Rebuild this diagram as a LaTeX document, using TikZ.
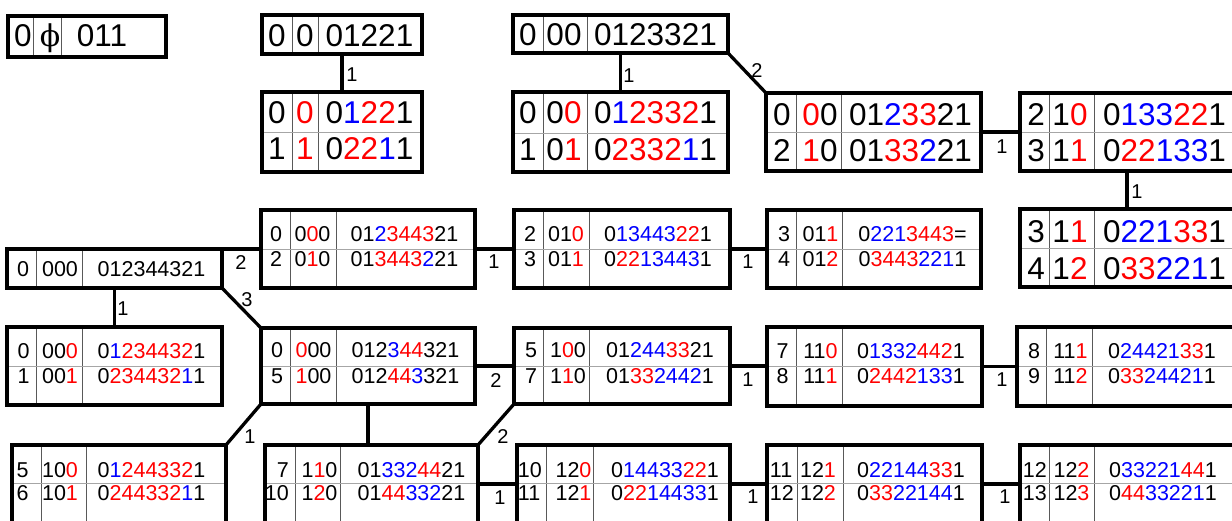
\documentclass[tikz,border=0pt]{standalone}
\usepackage{fontspec}
\setmainfont{Liberation Sans}
\newfontfamily\phifont{DejaVu Serif}
\usetikzlibrary{calc}
\newcommand{\rd}[1]{\textcolor{red}{#1}}
\newcommand{\bl}[1]{\textcolor{blue}{#1}}
\tikzset{
 frame/.style={draw=black, line width=3.3pt, inner sep=0pt, outer sep=0pt, rectangle},
 cdiv/.style={draw=black!65, line width=0.9pt},
 rdiv/.style={draw=black!35, line width=0.9pt},
 conn/.style={draw=black, line width=3.3pt},
 bg/.style={font=\fontsize{31.5}{31.5}\selectfont, anchor=base, inner sep=0pt},
 sm/.style={font=\fontsize{21.5}{21.5}\selectfont, anchor=base, inner sep=0pt},
 lab/.style={font=\fontsize{20}{20}\selectfont, inner sep=0pt},
}
\newcommand{\frm}[5]{\node[frame, minimum width={(#4-#2)*1pt}, minimum height={(#5-#3)*1pt}] (#1) at ({(#2+#4)/2},{(#3+#5)/2}) {};}
\newcommand{\grd}[6]{\draw[cdiv] (#5,#2) -- (#5,#4); \draw[cdiv] (#6,#2) -- (#6,#4);}
\newcommand{\rw}[3]{\draw[rdiv] (#1,#3) -- (#2,#3);}
\begin{document}
\begin{tikzpicture}[x=1pt,y=-1pt]
\useasboundingbox (0,0) rectangle (1232,521);
\clip (0,0) rectangle (1232,521);
% grid lines
\grd{8}{16}{166}{57}{33}{61}
\grd{262}{15}{422}{54}{292}{318}
\grd{262}{92}{422}{172}{292}{318} \rw{262}{422}{132}
\grd{513}{15}{728}{53}{543}{587}
\grd{513}{92}{728}{172}{543}{587} \rw{513}{728}{133}
\grd{766}{93}{981}{171}{796}{841} \rw{766}{981}{132}
\grd{1020}{93}{1234}{171}{1049}{1094} \rw{1020}{1234}{132}
\grd{1020}{209}{1234}{287}{1049}{1094} \rw{1020}{1234}{248}
\grd{7}{249}{222}{288}{36}{82}
\grd{261}{210}{475}{288}{290}{336} \rw{261}{475}{249}
\grd{7}{327}{222}{405}{36}{82} \rw{7}{222}{366}
\grd{261}{328}{475}{404}{290}{336} \rw{261}{475}{366}
\grd{514}{210}{730}{288}{543}{589} \rw{514}{730}{249}
\grd{767}{210}{981}{288}{796}{842} \rw{767}{981}{249}
\grd{514}{328}{730}{404}{543}{589} \rw{514}{730}{366}
\grd{767}{327}{982}{406}{796}{842} \rw{767}{982}{366}
\grd{1017}{327}{1234}{406}{1046}{1092} \rw{1017}{1234}{366}
\grd{12}{445}{226}{523}{41}{86} \rw{12}{226}{483}
\grd{265}{445}{478}{523}{295}{340} \rw{265}{478}{483}
\grd{517}{445}{730}{523}{546}{593} \rw{517}{730}{483}
\grd{767}{445}{982}{523}{797}{843} \rw{767}{982}{483}
\grd{1020}{445}{1234}{523}{1049}{1094} \rw{1020}{1234}{483}
% frames
\frm{A}{8}{16}{166}{57}
\frm{B}{262}{15}{422}{54}
\frm{C}{262}{92}{422}{172}
\frm{D}{513}{15}{728}{53}
\frm{E}{513}{92}{728}{172}
\frm{F}{766}{93}{981}{171}
\frm{G}{1020}{93}{1234}{171}
\frm{H}{1020}{209}{1234}{287}
\frm{I}{7}{249}{222}{288}
\frm{J}{261}{210}{475}{288}
\frm{K}{7}{327}{222}{405}
\frm{L}{261}{328}{475}{404}
\frm{M}{514}{210}{730}{288}
\frm{N}{767}{210}{981}{288}
\frm{O}{514}{328}{730}{404}
\frm{R}{767}{327}{982}{406}
\frm{V}{1017}{327}{1234}{406}
\frm{P}{12}{445}{226}{523}
\frm{Q}{265}{445}{478}{523}
\frm{S}{517}{445}{730}{523}
\frm{T}{767}{445}{982}{523}
\frm{U}{1020}{445}{1234}{523}
% connectors
\draw[conn] (B.south) -- (C.north);
\draw[conn] (D.south) -- (E.north);
\draw[conn] (D.south east) -- (F.north west);
\draw[conn] (F.east) -- (G.west);
\draw[conn] (G.south) -- (H.north);
\draw[conn] (I.north east) -- (J.west);
\draw[conn] (I.south) -- (K.north);
\draw[conn] (I.south east) -- (L.north west);
\draw[conn] (J.east) -- (M.west);
\draw[conn] (M.east) -- (N.west);
\draw[conn] (L.east) -- (O.west);
\draw[conn] (O.east) -- (O.east -| R.west);
\draw[conn] (R.east) -- (R.east -| V.west);
\draw[conn] (L.south west) -- (P.north east);
\draw[conn] (L.south) -- (L.south |- Q.north);
\draw[conn] (O.south west) -- (Q.north east);
\draw[conn] (Q.east) -- (S.west);
\draw[conn] (S.east) -- (T.west);
\draw[conn] (T.east) -- (U.west);
% labels
\node[lab] (l1) at (352,75) {1};
\node[lab] (l2) at (629,76) {1};
\node[lab] (l3) at (757,71) {2};
\node[lab] (l4) at (1002,147) {1};
\node[lab] (l5) at (1137,192) {1};
\node[lab] (l6) at (241,263) {2};
\node[lab] (l7) at (247,300) {3};
\node[lab] (l8) at (123,309) {1};
\node[lab] (l9) at (494,262) {1};
\node[lab] (l10) at (496,381) {2};
\node[lab] (l11) at (748,262) {1};
\node[lab] (l12) at (748,380) {1};
\node[lab] (l13) at (1002,380) {1};
\node[lab] (l14) at (250,437) {1};
\node[lab] (l15) at (503,437) {2};
\node[lab] (l16) at (500,498) {1};
\node[lab] (l17) at (753,497) {1};
\node[lab] (l18) at (1005,497) {1};
% big texts
\node[bg] (A1) at (23,47) {0};
\node[bg] (A2) at (50,47) {\phifont\fontsize{30}{30}\selectfont ϕ};
\node[bg] (A3) at (102,47) {011};
\node[bg] (B1) at (277,47) {0};
\node[bg] (B2) at (305,47) {0};
\node[bg] (B3) at (369.5,47) {01221};
\node[bg] (C11) at (277,124) {0};
\node[bg] (C12) at (305,124) {\rd{0}};
\node[bg] (C13) at (369.5,124) {0\bl{1}\rd{22}1};
\node[bg] (C21) at (277,160) {1};
\node[bg] (C22) at (305,160) {\rd{1}};
\node[bg] (C23) at (369.5,160) {0\rd{22}\bl{1}1};
\node[bg] (D1) at (528,46) {0};
\node[bg] (D2) at (564,46) {00};
\node[bg] (D3) at (655.5,46) {0123321};
\node[bg] (E11) at (528,124) {0};
\node[bg] (E12) at (564,124) {0\rd{0}};
\node[bg] (E13) at (655.5,124) {0\bl{1}\rd{2332}1};
\node[bg] (E21) at (528,161) {1};
\node[bg] (E22) at (564,161) {0\rd{1}};
\node[bg] (E23) at (655.5,161) {0\rd{2332}\bl{1}1};
\node[bg] (F11) at (782,126) {0};
\node[bg] (F12) at (820,126) {\rd{0}0};
\node[bg] (F13) at (910.5,126) {01\bl{2}\rd{33}21};
\node[bg] (F21) at (782,162) {2};
\node[bg] (F22) at (820,162) {\rd{1}0};
\node[bg] (F23) at (910.5,162) {01\rd{33}\bl{2}21};
\node[bg] (G11) at (1036,126) {2};
\node[bg] (G12) at (1070,126) {1\rd{0}};
\node[bg] (G13) at (1164.5,126) {0\bl{133}\rd{22}1};
\node[bg] (G21) at (1036,162) {3};
\node[bg] (G22) at (1070,162) {1\rd{1}};
\node[bg] (G23) at (1164.5,162) {0\rd{22}\bl{133}1};
\node[bg] (H11) at (1036,243) {3};
\node[bg] (H12) at (1070,243) {1\rd{1}};
\node[bg] (H13) at (1164.5,243) {0\bl{221}\rd{33}1};
\node[bg] (H21) at (1036,280) {4};
\node[bg] (H22) at (1070,280) {1\rd{2}};
\node[bg] (H23) at (1164.5,280) {0\rd{33}\bl{221}1};
% small texts
\node[sm] (I1) at (23,277) {0};
\node[sm] (I2) at (60,277) {000};
\node[sm] (I3) at (151.5,277) {012344321};
\node[sm] (K11) at (23.5,359) {0};
\node[sm] (K12) at (60,359) {00\rd{0}};
\node[sm] (K13) at (151.5,359) {0\bl{1}\rd{234432}1};
\node[sm] (K21) at (23.5,384) {1};
\node[sm] (K22) at (60,384) {00\rd{1}};
\node[sm] (K23) at (151.5,384) {0\rd{234432}\bl{1}1};
\node[sm] (J11) at (276,242) {0};
\node[sm] (J12) at (312.5,242) {0\rd{0}0};
\node[sm] (J13) at (404.5,242) {01\bl{2}\rd{3443}21};
\node[sm] (J21) at (276,267) {2};
\node[sm] (J22) at (312.5,267) {0\rd{1}0};
\node[sm] (J23) at (404.5,267) {01\rd{3443}\bl{2}21};
\node[sm] (L11) at (277,358) {0};
\node[sm] (L12) at (313.5,358) {\rd{0}00};
\node[sm] (L13) at (405.5,358) {012\bl{3}\rd{44}321};
\node[sm] (L21) at (277,383) {5};
\node[sm] (L22) at (313.5,383) {\rd{1}00};
\node[sm] (L23) at (405.5,383) {012\rd{44}\bl{3}321};
\node[sm] (M11) at (530,242) {2};
\node[sm] (M12) at (566,242) {01\rd{0}};
\node[sm] (M13) at (658,242) {0\bl{13443}\rd{22}1};
\node[sm] (M21) at (530,267) {3};
\node[sm] (M22) at (566,267) {01\rd{1}};
\node[sm] (M23) at (658,267) {0\rd{22}\bl{13443}1};
\node[sm] (N11) at (784,242) {3};
\node[sm] (N12) at (820.5,242) {01\rd{1}};
\node[sm] (N13) at (912.5,242) {0\bl{221}\rd{3443}=};
\node[sm] (N21) at (784,267) {4};
\node[sm] (N22) at (820.5,267) {01\rd{2}};
\node[sm] (N23) at (912.5,267) {0\rd{3443}\bl{221}1};
\node[sm] (O11) at (531,358) {5};
\node[sm] (O12) at (568,358) {1\rd{0}0};
\node[sm] (O13) at (660,358) {01\bl{244}\rd{33}21};
\node[sm] (O21) at (531,383) {7};
\node[sm] (O22) at (568,383) {1\rd{1}0};
\node[sm] (O23) at (660,383) {01\rd{33}\bl{2442}1};
\node[sm] (R11) at (782.5,359) {7};
\node[sm] (R12) at (820.5,359) {11\rd{0}};
\node[sm] (R13) at (911,359) {0\bl{1332}\rd{442}1};
\node[sm] (R21) at (782.5,383) {8};
\node[sm] (R22) at (820.5,383) {11\rd{1}};
\node[sm] (R23) at (911,383) {0\rd{2442}\bl{133}1};
\node[sm] (V11) at (1034,359) {8};
\node[sm] (V12) at (1070.5,359) {11\rd{1}};
\node[sm] (V13) at (1162,359) {0\bl{24421}\rd{33}1};
\node[sm] (V21) at (1034,383) {9};
\node[sm] (V22) at (1070.5,383) {11\rd{2}};
\node[sm] (V23) at (1162,383) {0\rd{33}\bl{24421}1};
\node[sm] (P11) at (22.5,477) {5};
\node[sm] (P12) at (60,477) {10\rd{0}};
\node[sm] (P13) at (151.5,477) {0\bl{1}\rd{244332}1};
\node[sm] (P21) at (22.5,500) {6};
\node[sm] (P22) at (60,500) {10\rd{1}};
\node[sm] (P23) at (151.5,500) {0\rd{244332}\bl{1}1};
\node[sm, anchor=base east] (Q11) at (289,477) {7};
\node[sm] (Q12) at (319.5,477) {1\rd{1}0};
\node[sm] (Q13) at (411.5,477) {01\bl{332}\rd{44}21};
\node[sm, anchor=base east] (Q21) at (289,500) {10};
\node[sm] (Q22) at (319.5,500) {1\rd{2}0};
\node[sm] (Q23) at (411.5,500) {01\rd{44}\bl{332}21};
\node[sm, anchor=base west] (S11) at (517.7,477) {10};
\node[sm] (S12) at (573.5,477) {12\rd{0}};
\node[sm] (S13) at (665,477) {0\bl{14433}\rd{22}1};
\node[sm, anchor=base west] (S21) at (517.7,500) {11};
\node[sm] (S22) at (573.5,500) {12\rd{1}};
\node[sm] (S23) at (665,500) {0\rd{22}\bl{14433}1};
\node[sm, anchor=base west] (T11) at (769.7,477) {11};
\node[sm] (T12) at (818,477) {12\rd{1}};
\node[sm] (T13) at (911,477) {0\bl{22144}\rd{33}1};
\node[sm, anchor=base west] (T21) at (769.7,500) {12};
\node[sm] (T22) at (818,500) {12\rd{2}};
\node[sm] (T23) at (911,500) {0\rd{33}\bl{22144}1};
\node[sm, anchor=base west] (U11) at (1022.7,477) {12};
\node[sm] (U12) at (1071.5,477) {12\rd{2}};
\node[sm] (U13) at (1163,477) {0\bl{33221}\rd{44}1};
\node[sm, anchor=base west] (U21) at (1022.7,500) {13};
\node[sm] (U22) at (1071.5,500) {12\rd{3}};
\node[sm] (U23) at (1163,500) {0\rd{44}\bl{33221}1};
\end{tikzpicture}
\end{document}
